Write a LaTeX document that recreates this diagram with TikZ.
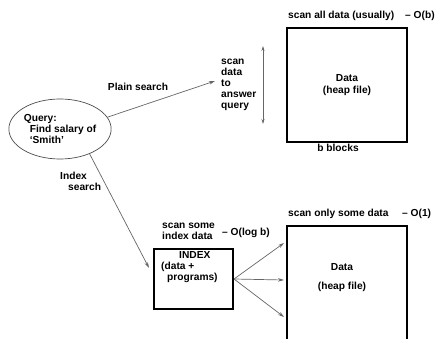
\documentclass[tikz,border=0pt]{standalone}
\usepackage{fontspec}
\setmainfont{Liberation Sans}
\usetikzlibrary{shapes.geometric,arrows.meta}
\begin{document}
\begin{tikzpicture}[x=1pt,y=-1pt,
  txt/.style={font=\fontsize{10.2}{11}\selectfont\bfseries, inner sep=0pt, align=left},
  box/.style={draw=black, line width=2pt, inner sep=0pt},
  conn/.style={draw=black!60, line width=0.7pt, -{Stealth[length=6pt,width=3.5pt]}},
]
\clip (0,0) rectangle (438,339);
\useasboundingbox (0,0) rectangle (438,339);
\fill[white] (0,0) rectangle (438,339);

% Query ellipse
\node[ellipse, draw=black!70, line width=0.7pt, minimum width=96pt, minimum height=60pt, inner sep=0pt,
      txt] (q) at (60,129) {Query:\\\hspace{6pt}Find salary of\\\hspace{6pt}`Smith'};

% Top data box
\node[box, minimum width=120pt, minimum height=114pt, txt, align=center] (d1) at (347,85) {Data\\[1pt](heap file)};
\node[txt, anchor=west] (t1) at (288,16) {scan all data (usually)};
\node[txt, anchor=west] (t1b) at (405,16) {– O(b)};
\node[txt] (bb) at (338,148) {b blocks};
\coordinate (va) at (263,46);
\coordinate (vb) at (263,124);
\draw[draw=black!60, line width=0.7pt, {Stealth[length=5pt,width=3pt]}-{Stealth[length=5pt,width=3pt]}] (va) -- (vb);
\node[txt, anchor=west] (sd) at (221,84.5) {scan\\data\\to\\answer\\query};

% Plain search
\coordinate (pe) at (215,81);
\draw[conn] (q.14) -- (pe);
\node[txt] (ps) at (138,87) {Plain search};

% Index search
\node[box, minimum width=79pt, minimum height=60pt] (idx) at (193.5,279) {};
\node[txt, anchor=north west] (idxt) at (161,251) {\hspace*{18pt}INDEX\\(data +\\\hspace*{6pt}programs)};
\coordinate (ie) at (149,268);
\draw[conn] (q.-40) -- (ie);
\node[txt, anchor=north west] (is) at (60,172) {Index\\\hspace*{8pt}search};
\node[txt, anchor=west] (ss) at (162,231.5) {scan some\\index data};
\node[txt, anchor=west] (ol) at (222,233) {– O(log b)};

% Bottom data box
\node[box, minimum width=120pt, minimum height=140pt] (d2) at (347,296) {};
\node[txt, align=center] (d2t) at (342,278) {Data\\[8pt](heap file)};
\node[txt, anchor=west] (t2) at (288,214) {scan only some data};
\node[txt, anchor=west] (t2b) at (402,214) {– O(1)};

\coordinate (a1) at (284,243);
\coordinate (a2) at (284,280);
\coordinate (a3) at (284,317);
\draw[conn] (idx.east) -- (a1);
\draw[conn] (idx.east) -- (a2);
\draw[conn] (idx.east) -- (a3);
\end{tikzpicture}
\end{document}
